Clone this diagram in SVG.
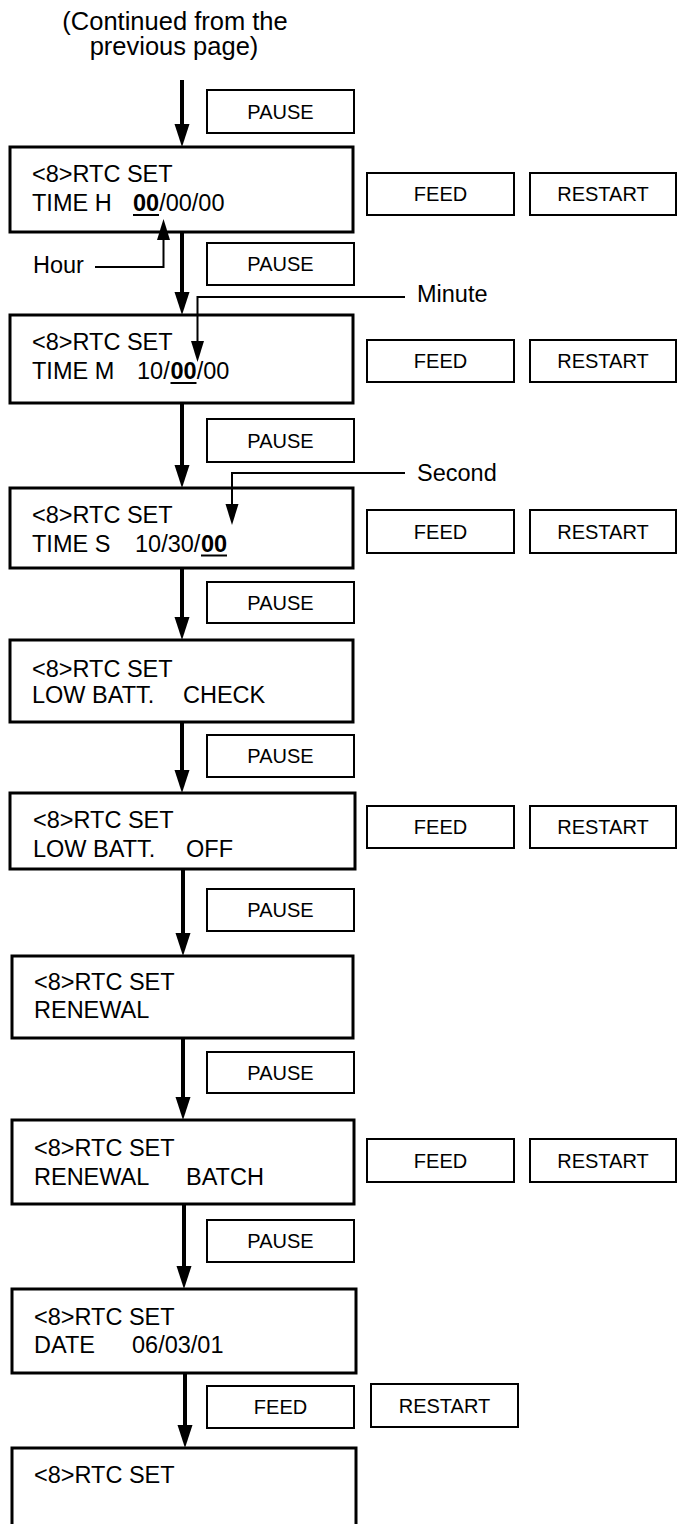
<svg xmlns="http://www.w3.org/2000/svg" width="683" height="1524" viewBox="0 0 683 1524">
<style>
text{font-family:"Liberation Sans",Arial,sans-serif;fill:#000}
.t{font-size:23.5px}
.k{font-size:20px;text-anchor:middle}
.ttl{font-size:25.5px;text-anchor:middle}
.b{font-weight:bold}
.main{fill:#fff;stroke:#000;stroke-width:3}
.key{fill:#fff;stroke:#000;stroke-width:2}
.flow{stroke:#000;stroke-width:4;fill:none;marker-end:url(#ah)}
.callA{stroke:#000;stroke-width:2;fill:none;marker-end:url(#ahs)}
.ul{stroke:#000;stroke-width:2}
</style>
<defs>
<marker id="ah" markerUnits="userSpaceOnUse" markerWidth="24" markerHeight="16" refX="0" refY="7.5" orient="auto" viewBox="0 0 24 15">
<path d="M0,0 L23,7.5 L0,15 z" fill="#000"/>
</marker>
<marker id="ahs" markerUnits="userSpaceOnUse" markerWidth="22" markerHeight="14" refX="0" refY="6.5" orient="auto" viewBox="0 0 22 13">
<path d="M0,0 L21,6.5 L0,13 z" fill="#000"/>
</marker>
</defs>

<g id="title">
<text class="ttl" x="175" y="30">(Continued from the</text>
<text class="ttl" x="174" y="55">previous page)</text>
</g>

<g id="pause0"><rect class="key" x="207" y="90" width="147" height="43"/><text class="k" x="280.5" y="118.5">PAUSE</text></g>
<g id="pause1"><rect class="key" x="207" y="243" width="147" height="42"/><text class="k" x="280.5" y="271">PAUSE</text></g>
<g id="pause2"><rect class="key" x="207" y="419" width="147" height="43"/><text class="k" x="280.5" y="447.5">PAUSE</text></g>
<g id="pause3"><rect class="key" x="207" y="582" width="147" height="41"/><text class="k" x="280.5" y="609.5">PAUSE</text></g>
<g id="pause4"><rect class="key" x="207" y="735" width="147" height="42"/><text class="k" x="280.5" y="763">PAUSE</text></g>
<g id="pause5"><rect class="key" x="207" y="889" width="147" height="42"/><text class="k" x="280.5" y="917">PAUSE</text></g>
<g id="pause6"><rect class="key" x="207" y="1052" width="147" height="41"/><text class="k" x="280.5" y="1079.5">PAUSE</text></g>
<g id="pause7"><rect class="key" x="207" y="1220" width="147" height="42"/><text class="k" x="280.5" y="1248">PAUSE</text></g>

<g id="feed1"><rect class="key" x="367" y="173" width="147" height="42"/><text class="k" x="440.5" y="201">FEED</text></g>
<g id="restart1"><rect class="key" x="530" y="173" width="146" height="42"/><text class="k" x="603" y="201">RESTART</text></g>
<g id="feed2"><rect class="key" x="367" y="340" width="147" height="42"/><text class="k" x="440.5" y="368">FEED</text></g>
<g id="restart2"><rect class="key" x="530" y="340" width="146" height="42"/><text class="k" x="603" y="368">RESTART</text></g>
<g id="feed3"><rect class="key" x="367" y="510" width="147" height="43"/><text class="k" x="440.5" y="538.5">FEED</text></g>
<g id="restart3"><rect class="key" x="530" y="510" width="146" height="43"/><text class="k" x="603" y="538.5">RESTART</text></g>
<g id="feed5"><rect class="key" x="367" y="806" width="147" height="42"/><text class="k" x="440.5" y="834">FEED</text></g>
<g id="restart5"><rect class="key" x="530" y="806" width="146" height="42"/><text class="k" x="603" y="834">RESTART</text></g>
<g id="feed7"><rect class="key" x="367" y="1139" width="147" height="43"/><text class="k" x="440.5" y="1167.5">FEED</text></g>
<g id="restart7"><rect class="key" x="530" y="1139" width="146" height="43"/><text class="k" x="603" y="1167.5">RESTART</text></g>
<g id="feed8"><rect class="key" x="207" y="1386" width="147" height="42"/><text class="k" x="280.5" y="1414">FEED</text></g>
<g id="restart8"><rect class="key" x="371" y="1384" width="147" height="43"/><text class="k" x="444.5" y="1412.5">RESTART</text></g>

<g id="box1"><rect class="main" x="10" y="147" width="343" height="85"/>
<text class="t" x="32" y="182">&lt;8&gt;RTC SET</text>
<text class="t" y="211"><tspan x="32">TIME H</tspan><tspan x="133" class="b">00</tspan><tspan>/00/00</tspan></text>
<line class="ul" x1="133" y1="215" x2="159" y2="215"/></g>

<g id="box2"><rect class="main" x="10" y="315" width="343" height="88"/>
<text class="t" x="32" y="350">&lt;8&gt;RTC SET</text>
<text class="t" y="379"><tspan x="32">TIME M</tspan><tspan x="137">10/</tspan><tspan x="170.5" class="b">00</tspan><tspan>/00</tspan></text>
<line class="ul" x1="170.5" y1="383" x2="196.5" y2="383"/></g>

<g id="box3"><rect class="main" x="10" y="488" width="343" height="80"/>
<text class="t" x="32" y="523">&lt;8&gt;RTC SET</text>
<text class="t" y="552"><tspan x="32">TIME S</tspan><tspan x="135">10/30/</tspan><tspan x="201" class="b">00</tspan></text>
<line class="ul" x1="201" y1="555.5" x2="227" y2="555.5"/></g>

<g id="box4"><rect class="main" x="10" y="640" width="343" height="82"/>
<text class="t" x="32" y="677">&lt;8&gt;RTC SET</text>
<text class="t" y="703"><tspan x="32">LOW BATT.</tspan><tspan x="183">CHECK</tspan></text></g>

<g id="box5"><rect class="main" x="10" y="793" width="345" height="76"/>
<text class="t" x="33" y="828">&lt;8&gt;RTC SET</text>
<text class="t" y="857"><tspan x="33">LOW BATT.</tspan><tspan x="186">OFF</tspan></text></g>

<g id="box6"><rect class="main" x="12" y="956" width="341" height="82"/>
<text class="t" x="34" y="990">&lt;8&gt;RTC SET</text>
<text class="t" x="34" y="1018">RENEWAL</text></g>

<g id="box7"><rect class="main" x="12" y="1120" width="342" height="84"/>
<text class="t" x="34" y="1156">&lt;8&gt;RTC SET</text>
<text class="t" y="1185"><tspan x="34">RENEWAL</tspan><tspan x="186">BATCH</tspan></text></g>

<g id="box8"><rect class="main" x="12" y="1289" width="344" height="84"/>
<text class="t" x="34" y="1325">&lt;8&gt;RTC SET</text>
<text class="t" y="1353"><tspan x="34">DATE</tspan><tspan x="132">06/03/01</tspan></text></g>

<g id="box9"><rect class="main" x="12" y="1448" width="344" height="90"/>
<text class="t" x="34" y="1483">&lt;8&gt;RTC SET</text></g>

<g id="callout-hour">
<text class="t" x="33" y="273">Hour</text>
<polyline class="callA" points="95,267 163.5,267 163.5,240"/>
</g>
<g id="callout-minute">
<text class="t" x="417" y="302">Minute</text>
<polyline class="callA" points="405,297 197.5,297 197.5,341"/>
</g>
<g id="callout-second">
<text class="t" x="417" y="481">Second</text>
<polyline class="callA" points="405,473 232,473 232,504"/>
</g>

<g id="connectors">
<line class="flow" x1="182" y1="80" x2="182" y2="124"/>
<line class="flow" x1="182" y1="233" x2="182" y2="292"/>
<line class="flow" x1="182" y1="404" x2="182" y2="465"/>
<line class="flow" x1="182" y1="569" x2="182" y2="617"/>
<line class="flow" x1="182" y1="723" x2="182" y2="770"/>
<line class="flow" x1="183" y1="870" x2="183" y2="933"/>
<line class="flow" x1="183" y1="1039" x2="183" y2="1097"/>
<line class="flow" x1="184" y1="1205" x2="184" y2="1266"/>
<line class="flow" x1="185" y1="1374" x2="185" y2="1425"/>
</g>
</svg>
